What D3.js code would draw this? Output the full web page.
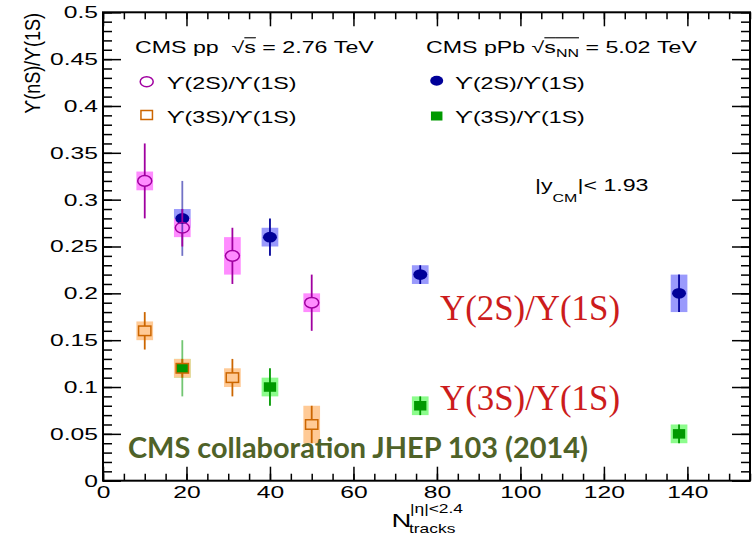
<!DOCTYPE html>
<html>
<head>
<meta charset="utf-8">
<script src="https://cdn.jsdelivr.net/npm/d3@7"></script>
<style>
  html, body { margin: 0; padding: 0; background: #fff; }
  svg { display: block; }
</style>
</head>
<body>
<svg id="chart" width="755" height="537"></svg>
<script>
// Upsilon excited-to-ground-state ratios vs. charged-track multiplicity
// pp at 2.76 TeV (open markers) and pPb at 5.02 TeV (filled markers)
const ppTracks  = [10, 19, 31, 50];
const pPbTracks = [19, 40, 76, 138];

const pp2S     = [0.32, 0.27, 0.24, 0.19];
const pp2SStat = [0.04, 0.02, 0.03, 0.03];
const pp2SSyst = [0.01, 0.01, 0.02, 0.01];

const pp3S     = [0.16, 0.12, 0.11, 0.06];
const pp3SStat = [0.02, 0.01, 0.02, 0.02];
const pp3SSyst = [0.01, 0.01, 0.01, 0.02];

const pPb2S     = [0.28, 0.26, 0.22, 0.20];
const pPb2SStat = [0.04, 0.02, 0.01, 0.02];
const pPb2SSyst = [0.01, 0.01, 0.01, 0.02];

const pPb3S     = [0.12, 0.10, 0.08, 0.05];
const pPb3SStat = [0.03, 0.02, 0.01, 0.01];
const pPb3SSyst = [0.01, 0.01, 0.01, 0.01];

const xTickValues = [0, 20, 40, 60, 80, 100, 120, 140];
const xTickLabels = ["0", "20", "40", "60", "80", "100", "120", "140"];
const yTickValues = [0, 0.05, 0.1, 0.15, 0.2, 0.25, 0.3, 0.35, 0.4, 0.45, 0.5];
const yTickLabels = ["0", "0.05", "0.1", "0.15", "0.2", "0.25", "0.3", "0.35", "0.4", "0.45", "0.5"];

// half width of the systematic-uncertainty boxes, in N_tracks units
const SYST_HALF = 2;
// horizontal stretch of the ROOT-style text
const SX = 1.45;
const ROOT_FONT = "'Liberation Sans', Arial, Helvetica, 'DejaVu Sans', sans-serif";

const svg = d3.select("#chart");
const L = 103, R = 750, T = 12.3, B = 480.7;

const x = d3.scaleLinear().domain([0, 155]).range([L, R]);
const y = d3.scaleLinear().domain([0, 0.5]).range([B, T]);

// ---------- axes ----------
const axes = svg.append("g").attr("class", "axes");

function styleTicks(g) {
  g.select(".domain").remove();
  g.selectAll(".tick line").attr("stroke", "#000").attr("stroke-width", 1.5);
}

const xMinor = d3.range(0, 156, 5);
const yMinor = d3.range(0, 51).map(i => i / 100);

axes.append("g").attr("transform", `translate(0,${B})`)
  .call(d3.axisBottom(x).tickValues(xMinor).tickSizeInner(-7).tickSizeOuter(0).tickFormat(() => ""))
  .call(styleTicks);
axes.append("g").attr("transform", `translate(0,${T})`)
  .call(d3.axisTop(x).tickValues(xMinor).tickSizeInner(-7).tickSizeOuter(0).tickFormat(() => ""))
  .call(styleTicks);
axes.append("g").attr("transform", `translate(0,${T})`)
  .call(d3.axisTop(x).tickValues(xTickValues).tickSizeInner(-14).tickSizeOuter(0).tickFormat(() => ""))
  .call(styleTicks);

const xAxis = axes.append("g").attr("transform", `translate(0,${B})`)
  .call(d3.axisBottom(x).tickValues(xTickValues).tickSizeInner(-14).tickSizeOuter(0)
    .tickPadding(5).tickFormat((d, i) => xTickLabels[i]))
  .call(styleTicks);
xAxis.selectAll(".tick text")
  .attr("font-family", ROOT_FONT).attr("font-size", 17).attr("fill", "#000")
  .attr("transform", `scale(${SX},1)`);

axes.append("g").attr("transform", `translate(${L},0)`)
  .call(d3.axisLeft(y).tickValues(yMinor).tickSizeInner(-9).tickSizeOuter(0).tickFormat(() => ""))
  .call(styleTicks);
axes.append("g").attr("transform", `translate(${R},0)`)
  .call(d3.axisRight(y).tickValues(yMinor).tickSizeInner(-9).tickSizeOuter(0).tickFormat(() => ""))
  .call(styleTicks);
axes.append("g").attr("transform", `translate(${R},0)`)
  .call(d3.axisRight(y).tickValues(yTickValues).tickSizeInner(-18).tickSizeOuter(0).tickFormat(() => ""))
  .call(styleTicks);

const yAxis = axes.append("g").attr("transform", `translate(${L},0)`)
  .call(d3.axisLeft(y).tickValues(yTickValues).tickSizeInner(-18).tickSizeOuter(0)
    .tickPadding(5 / SX).tickFormat((d, i) => yTickLabels[i]))
  .call(styleTicks);
yAxis.selectAll(".tick text")
  .attr("font-family", ROOT_FONT).attr("font-size", 17).attr("fill", "#000")
  .attr("transform", `scale(${SX},1)`);

// frame
svg.append("rect")
  .attr("x", L).attr("y", T).attr("width", R - L).attr("height", B - T)
  .attr("fill", "none").attr("stroke", "#000").attr("stroke-width", 2);

// ---------- data ----------
const series = {
  pp2S:  { t: ppTracks,  v: pp2S,  stat: pp2SStat,  syst: pp2SSyst,  color: "#a000a0", box: "#ff8cff", shape: "circle", filled: false },
  pp3S:  { t: ppTracks,  v: pp3S,  stat: pp3SStat,  syst: pp3SSyst,  color: "#cc6600", box: "#ffca96", shape: "square", filled: false },
  pPb2S: { t: pPbTracks, v: pPb2S, stat: pPb2SStat, syst: pPb2SSyst, color: "#000099", box: "#9a9afc", shape: "circle", filled: true },
  pPb3S: { t: pPbTracks, v: pPb3S, stat: pPb3SStat, syst: pPb3SSyst, color: "#009900", box: "#8cfc8c", shape: "square", filled: true }
};
const pts = s => s.t.map((t, i) => ({ t, v: s.v[i], stat: s.stat[i], syst: s.syst[i] }));

const plot = svg.append("g").attr("class", "plot");
const RX = 7, RY = 5.3, SQW = 12.3, SQH = 9.5;

function drawBoxes(s) {
  plot.append("g").selectAll("rect").data(pts(s)).join("rect")
    .attr("x", d => x(d.t - SYST_HALF))
    .attr("width", d => x(d.t + SYST_HALF) - x(d.t - SYST_HALF))
    .attr("y", d => y(d.v + d.syst))
    .attr("height", d => y(d.v - d.syst) - y(d.v + d.syst))
    .attr("fill", s.box);
}

function drawBars(s) {
  const g = plot.append("g").attr("stroke", s.color).attr("stroke-width", 1.8);
  const half = s.shape === "circle" ? RY : SQH / 2;
  pts(s).forEach(d => {
    // bins shared with the pp sample are drawn lighter
    const op = (s.filled && ppTracks.includes(d.t)) ? 0.55 : 1;
    const cx = x(d.t), cy = y(d.v);
    const top = y(d.v + d.stat), bot = y(d.v - d.stat);
    const gap = s.filled ? 0 : half;
    if (cy - gap > top) g.append("line").attr("x1", cx).attr("x2", cx).attr("y1", top).attr("y2", cy - gap).attr("opacity", op);
    if (cy + gap < bot) g.append("line").attr("x1", cx).attr("x2", cx).attr("y1", cy + gap).attr("y2", bot).attr("opacity", op);
  });
}

function marker(g, s, cx, cy, rx, ry, w, h) {
  if (s.shape === "circle") {
    return g.append("ellipse").attr("cx", cx).attr("cy", cy).attr("rx", rx).attr("ry", ry)
      .attr("fill", s.filled ? s.color : "none")
      .attr("stroke", s.color).attr("stroke-width", s.filled ? 0 : 1.5);
  }
  return g.append("rect").attr("x", cx - w / 2).attr("y", cy - h / 2).attr("width", w).attr("height", h)
    .attr("fill", s.filled ? s.color : "none")
    .attr("stroke", s.color).attr("stroke-width", s.filled ? 0 : 1.5);
}

function drawMarkers(s) {
  const g = plot.append("g");
  pts(s).forEach(d => marker(g, s, x(d.t), y(d.v), RX, RY, SQW, SQH));
}

drawBoxes(series.pPb2S); drawBoxes(series.pPb3S);
drawBoxes(series.pp2S);  drawBoxes(series.pp3S);
drawBars(series.pPb2S);  drawBars(series.pPb3S);
drawMarkers(series.pPb2S); drawMarkers(series.pPb3S);
drawBars(series.pp2S);   drawBars(series.pp3S);
drawMarkers(series.pp2S); drawMarkers(series.pp3S);

// ---------- text ----------
// Sequential runs of stretched ROOT-style text; runs may be sub/superscripted or overlined
function rootText(px, py, runs, baseSize) {
  const g = svg.append("g").attr("transform", `translate(${px},${py}) scale(${SX},1)`);
  let cx = 0;
  runs.forEach(r => {
    const size = r.size || baseSize;
    const dy = r.dy || 0;
    const t = g.append("text").attr("x", cx).attr("y", dy)
      .attr("font-family", ROOT_FONT).attr("font-size", size).attr("fill", "#000")
      .text(r.t);
    const w = t.node().getComputedTextLength();
    if (r.over) {
      g.append("line").attr("x1", cx).attr("x2", cx + w)
        .attr("y1", -baseSize * 0.97).attr("y2", -baseSize * 0.97)
        .attr("stroke", "#000").attr("stroke-width", 1.1);
    }
    cx += w;
  });
  return g;
}

const NB = "\u00a0";
rootText(135, 53.3, [{ t: "CMS pp" + NB + NB }, { t: "\u221a" }, { t: "s", over: true }, { t: NB + "=" + NB + "2.76" + NB + "TeV" }], 16);
rootText(426, 53.3, [{ t: "CMS pPb" + NB }, { t: "\u221a" }, { t: "s", over: true }, { t: "NN", size: 11, dy: 4, over: true }, { t: NB + "=" + NB + "5.02" + NB + "TeV" }], 16);

// legend
const legend = [
  { s: series.pp2S,  mx: 146.7, my: 81.7, tx: 166.7, ty: 89.3, label: "\u03d2(2S)/\u03d2(1S)" },
  { s: series.pp3S,  mx: 146.7, my: 115,  tx: 166.7, ty: 123.3, label: "\u03d2(3S)/\u03d2(1S)" },
  { s: series.pPb2S, mx: 436.7, my: 80.7, tx: 455,   ty: 89.3, label: "\u03d2(2S)/\u03d2(1S)" },
  { s: series.pPb3S, mx: 436.7, my: 116,  tx: 455,   ty: 123.3, label: "\u03d2(3S)/\u03d2(1S)" }
];
const lg = svg.append("g");
legend.forEach(e => {
  marker(lg, e.s, e.mx, e.my, 6.5, 5, 11.5, 9);
  rootText(e.tx, e.ty, [{ t: e.label }], 16);
});

// rapidity range
rootText(535, 190.5, [{ t: "|y" }, { t: "CM", size: 11, dy: 12 }, { t: "|<" + NB + "1.93" }], 16);

// x-axis title
rootText(391.5, 526.7, [{ t: "N" }], 19);
rootText(410, 513, [{ t: "|\u03b7|<2.4" }], 12);
rootText(409, 533, [{ t: "tracks" }], 12);

// y-axis title
svg.append("text")
  .attr("transform", `translate(40,13) scale(1.25,1) rotate(-90)`)
  .attr("text-anchor", "end")
  .attr("font-family", ROOT_FONT).attr("font-size", 18).attr("fill", "#000")
  .text("\u03d2(nS)/\u03d2(1S)");

// annotations
svg.append("text").attr("x", 440).attr("y", 320)
  .attr("font-family", "'Liberation Serif', 'Times New Roman', serif").attr("font-size", 35)
  .attr("fill", "#cc1c1c").attr("textLength", 180).attr("lengthAdjust", "spacingAndGlyphs")
  .text("\u03a5(2S)/\u03a5(1S)");
svg.append("text").attr("x", 440).attr("y", 410)
  .attr("font-family", "'Liberation Serif', 'Times New Roman', serif").attr("font-size", 35)
  .attr("fill", "#cc1c1c").attr("textLength", 180).attr("lengthAdjust", "spacingAndGlyphs")
  .text("\u03a5(3S)/\u03a5(1S)");
svg.append("text").attr("x", 128).attr("y", 457.7)
  .attr("font-family", "Lato, 'Open Sans', sans-serif").attr("font-weight", "bold").attr("font-size", 28)
  .attr("fill", "#4f6228").attr("textLength", 460).attr("lengthAdjust", "spacingAndGlyphs")
  .text("CMS collaboration JHEP 103 (2014)");
</script>
</body>
</html>
